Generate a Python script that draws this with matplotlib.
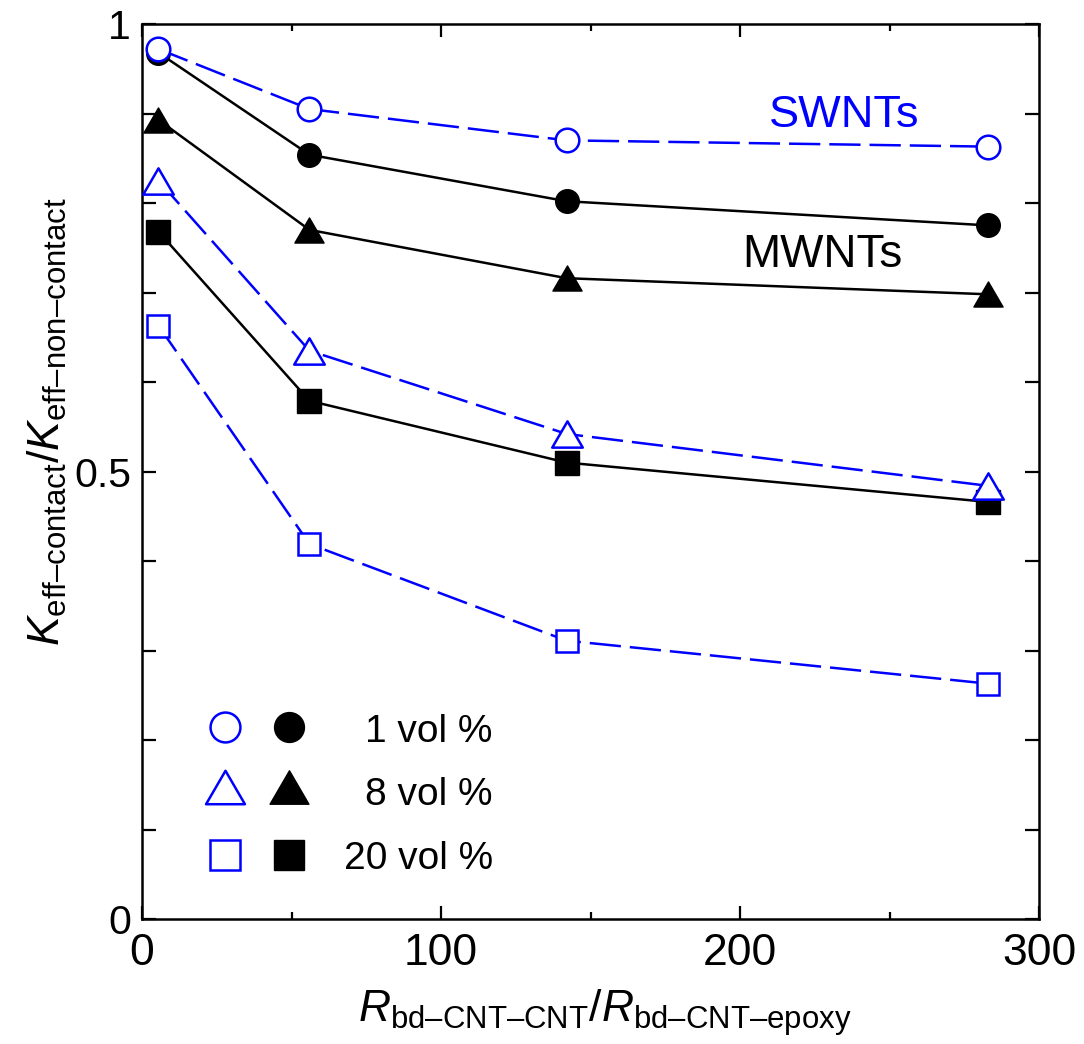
import matplotlib
matplotlib.use('Agg')
import matplotlib.pyplot as plt
from matplotlib.path import Path
from matplotlib.ticker import FixedLocator, FixedFormatter

# ---- data ----
x = [5.5, 56, 142, 283]
swnt_1 = [0.972, 0.905, 0.870, 0.863]
swnt_8 = [0.825, 0.635, 0.542, 0.484]
swnt_20 = [0.663, 0.419, 0.311, 0.263]
mwnt_1 = [0.968, 0.854, 0.802, 0.775]
mwnt_8 = [0.893, 0.770, 0.716, 0.698]
mwnt_20 = [0.768, 0.579, 0.510, 0.466]
legend_labels = ['1 vol %', '8 vol %', '20 vol %']
y_ticks = [0.0, 0.1, 0.2, 0.3, 0.4, 0.5, 0.6, 0.7, 0.8, 0.9, 1.0]
y_ticklabels = ['0', '', '', '', '', '0.5', '', '', '', '', '1']
x_major = [0, 100, 200, 300]
x_minor = [50, 150, 250]

plt.rcParams['font.family'] = ['Liberation Sans', 'DejaVu Sans']
plt.rcParams['mathtext.fontset'] = 'custom'
plt.rcParams['mathtext.rm'] = 'Liberation Sans'
plt.rcParams['mathtext.it'] = 'Liberation Sans:italic'
plt.rcParams['mathtext.bf'] = 'Liberation Sans:bold'

BLUE = '#0000ff'
tri = Path([(-1, -0.86), (1, -0.86), (0, 0.86), (-1, -0.86)],
           [Path.MOVETO, Path.LINETO, Path.LINETO, Path.CLOSEPOLY])

fig = plt.figure(figsize=(10.84, 10.44), dpi=100)
ax = fig.add_axes([0.131, 0.1197, 0.8275, 0.8573])

lw = 1.8
dash = (0, (12.5, 3.6))

# MWNTs (black, filled)
ax.plot(x, mwnt_1, '-', color='k', lw=lw, marker='o', ms=17, mfc='k', mec='k', zorder=3)
ax.plot(x, mwnt_8, '-', color='k', lw=lw, marker=tri, ms=21, mfc='k', mec='k', zorder=3)
ax.plot(x, mwnt_20, '-', color='k', lw=lw, marker='s', ms=17.5, mfc='k', mec='k', zorder=3)
# SWNTs (blue, open)
ax.plot(x, swnt_1, color=BLUE, lw=lw, linestyle=dash, marker='o', ms=17, mfc='white', mec=BLUE, mew=1.8, zorder=4)
ax.plot(x, swnt_8, color=BLUE, lw=lw, linestyle=dash, marker=tri, ms=22, mfc='white', mec=BLUE, mew=1.8, zorder=4)
ax.plot(x, swnt_20, color=BLUE, lw=lw, linestyle=dash, marker='s', ms=16.5, mfc='white', mec=BLUE, mew=1.8, zorder=4)

ax.set_xlim(0, 300)
ax.set_ylim(0, 1)

ax.xaxis.set_major_locator(FixedLocator(x_major))
ax.xaxis.set_minor_locator(FixedLocator(x_minor))
ax.yaxis.set_major_locator(FixedLocator(y_ticks))
ax.yaxis.set_major_formatter(FixedFormatter(y_ticklabels))

ax.tick_params(axis='both', which='both', direction='in', top=True, right=True, width=1.6)
ax.tick_params(axis='y', which='major', length=10, pad=8, labelsize=29.5)
ax.tick_params(axis='x', which='major', length=9.5, pad=10, labelsize=32)
ax.tick_params(axis='x', which='minor', length=5)
for s in ax.spines.values():
    s.set_linewidth(1.8)

# annotations
ax.text(234.8, 0.885, 'SWNTs', color=BLUE, fontsize=32.5, ha='center', va='baseline')
ax.text(227.4, 0.729, 'MWNTs', color='k', fontsize=33, ha='center', va='baseline')

# manual legend
leg_y = [0.2145, 0.148, 0.0715]
leg_txt_y = [0.198, 0.127, 0.0555]
open_m = ['o', tri, 's']
open_ms = [21.5, 28, 21.5]
for i in range(3):
    ax.plot([0.0929], [leg_y[i]], transform=ax.transAxes, marker=open_m[i], ms=open_ms[i],
            mfc='white', mec=BLUE, mew=1.8, ls='none', clip_on=False)
    ax.plot([0.164], [leg_y[i]], transform=ax.transAxes, marker=open_m[i], ms=open_ms[i],
            mfc='k', mec='k', ls='none', clip_on=False)
    ax.text(0.391, leg_txt_y[i], legend_labels[i], transform=ax.transAxes,
            fontsize=28, ha='right', va='baseline')

fig.text(0.558, 0.0211, r'$R_{\mathrm{bd–CNT–CNT}}/R_{\mathrm{bd–CNT–epoxy}}$',
         fontsize=32, ha='center', va='baseline')
fig.text(0.044, 0.596, r'$K_{\mathrm{eff–contact}}/K_{\mathrm{eff–non–contact}}$',
         fontsize=32, ha='center', va='center', rotation=90)

fig.savefig('out.png', dpi=100)
